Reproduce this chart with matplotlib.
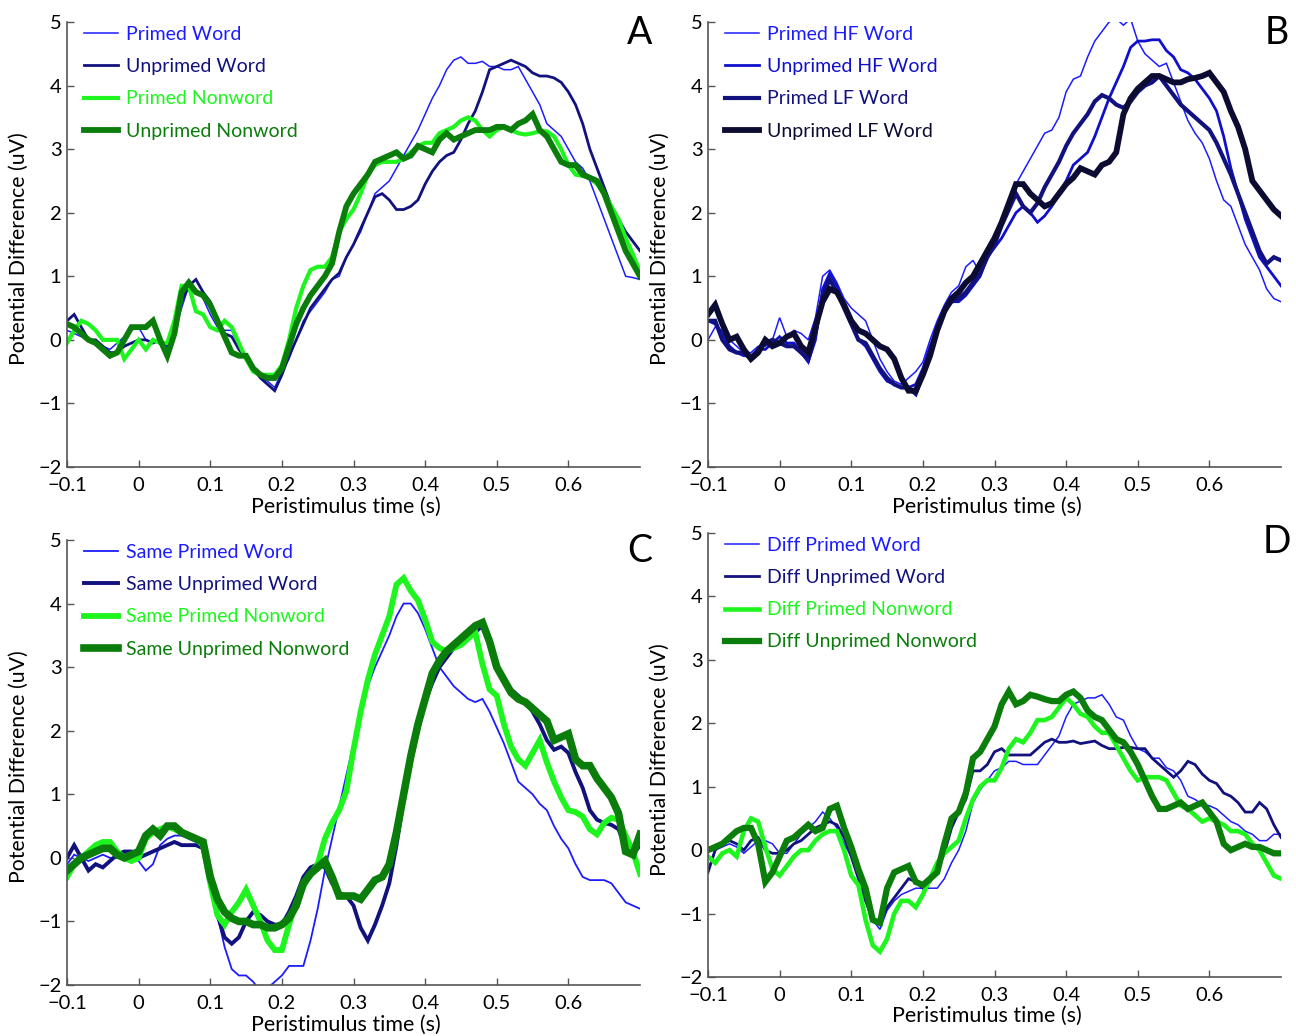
import matplotlib
matplotlib.use("Agg")
import matplotlib.pyplot as plt

plt.rcParams['font.family'] = ['Lato', 'DejaVu Sans']

time_s = [-0.10, -0.09, -0.08, -0.07, -0.06, -0.05, -0.04, -0.03, -0.02, -0.01,
          0.00, 0.01, 0.02, 0.03, 0.04, 0.05, 0.06, 0.07, 0.08, 0.09,
          0.10, 0.11, 0.12, 0.13, 0.14, 0.15, 0.16, 0.17, 0.18, 0.19,
          0.20, 0.21, 0.22, 0.23, 0.24, 0.25, 0.26, 0.27, 0.28, 0.29,
          0.30, 0.31, 0.32, 0.33, 0.34, 0.35, 0.36, 0.37, 0.38, 0.39,
          0.40, 0.41, 0.42, 0.43, 0.44, 0.45, 0.46, 0.47, 0.48, 0.49,
          0.50, 0.51, 0.52, 0.53, 0.54, 0.55, 0.56, 0.57, 0.58, 0.59,
          0.60, 0.61, 0.62, 0.63, 0.64, 0.65, 0.66, 0.67, 0.68, 0.69, 0.70]

# ---------------- Panel A ----------------
a_primed_word = [0.15, 0.10, 0.05, 0.0, -0.05, -0.1, -0.15, -0.05, 0.05, 0.15,
                 0.2, 0.0, -0.05, 0.0, -0.1, 0.1, 0.5, 0.85, 0.8, 0.65,
                 0.4, 0.2, 0.15, 0.15, -0.1, -0.3, -0.4, -0.6, -0.65, -0.75,
                 -0.5, -0.3, 0.0, 0.3, 0.45, 0.6, 0.75, 0.95, 1.0, 1.3,
                 1.5, 1.7, 2.0, 2.3, 2.4, 2.5, 2.7, 2.9, 3.1, 3.3,
                 3.55, 3.8, 4.0, 4.25, 4.4, 4.45, 4.35, 4.35, 4.38, 4.3,
                 4.3, 4.25, 4.25, 4.3, 4.1, 3.9, 3.7, 3.4, 3.3, 3.2,
                 3.0, 2.8, 2.7, 2.5, 2.2, 1.9, 1.6, 1.3, 1.0, 0.98, 0.95]
a_unprimed_word = [0.3, 0.4, 0.2, 0.0, 0.0, -0.1, -0.2, -0.2, -0.1, -0.05,
                   0.0, 0.0, -0.05, 0.0, -0.15, 0.2, 0.6, 0.85, 0.95, 0.75,
                   0.6, 0.3, 0.1, 0.05, -0.15, -0.3, -0.45, -0.6, -0.7, -0.8,
                   -0.55, -0.25, 0.0, 0.25, 0.5, 0.65, 0.8, 0.95, 1.05, 1.3,
                   1.5, 1.75, 2.0, 2.25, 2.3, 2.2, 2.05, 2.05, 2.1, 2.2,
                   2.45, 2.65, 2.8, 2.9, 2.95, 3.15, 3.4, 3.6, 3.9, 4.25,
                   4.3, 4.35, 4.4, 4.35, 4.3, 4.2, 4.15, 4.15, 4.12, 4.05,
                   3.9, 3.7, 3.4, 3.0, 2.7, 2.4, 2.1, 1.9, 1.7, 1.55, 1.4]
a_primed_nonword = [-0.05, 0.15, 0.3, 0.25, 0.15, 0.0, 0.0, 0.0, -0.3, -0.15,
                    0.0, -0.15, 0.0, -0.05, -0.05, 0.3, 0.85, 0.85, 0.45, 0.4,
                    0.2, 0.15, 0.3, 0.2, -0.05, -0.3, -0.5, -0.55, -0.55, -0.55,
                    -0.4, 0.0, 0.5, 0.85, 1.1, 1.15, 1.15, 1.3, 1.7, 1.9,
                    2.05, 2.3, 2.6, 2.75, 2.8, 2.8, 2.8, 2.85, 2.95, 3.05,
                    3.1, 3.1, 3.25, 3.3, 3.35, 3.45, 3.5, 3.45, 3.3, 3.2,
                    3.3, 3.35, 3.3, 3.25, 3.23, 3.25, 3.28, 3.28, 3.2, 3.0,
                    2.75, 2.6, 2.58, 2.55, 2.45, 2.3, 2.1, 1.9, 1.6, 1.35, 1.07]
a_unprimed_nonword = [0.25, 0.2, 0.1, 0.0, -0.05, -0.15, -0.25, -0.2, 0.0, 0.2,
                      0.2, 0.2, 0.3, 0.0, -0.25, 0.1, 0.75, 0.9, 0.75, 0.7,
                      0.55, 0.3, 0.05, -0.2, -0.25, -0.25, -0.45, -0.55, -0.6, -0.6,
                      -0.45, -0.1, 0.25, 0.5, 0.7, 0.85, 1.0, 1.2, 1.7, 2.1,
                      2.3, 2.45, 2.6, 2.8, 2.85, 2.9, 2.95, 2.85, 2.9, 3.05,
                      3.0, 2.95, 3.15, 3.25, 3.15, 3.2, 3.25, 3.3, 3.3, 3.3,
                      3.35, 3.35, 3.3, 3.4, 3.45, 3.55, 3.3, 3.2, 3.0, 2.8,
                      2.75, 2.75, 2.6, 2.55, 2.5, 2.3, 2.0, 1.7, 1.4, 1.2, 1.0]

# ---------------- Panel B ----------------
b_primed_hf = [0.0, 0.2, 0.15, 0.0, -0.1, -0.2, -0.2, -0.1, -0.1, 0.0,
               0.35, 0.05, 0.15, 0.1, 0.0, 0.35, 1.0, 1.1, 0.9, 0.65,
               0.5, 0.4, 0.3, 0.0, -0.3, -0.5, -0.65, -0.7, -0.6, -0.5,
               -0.35, 0.0, 0.3, 0.55, 0.75, 0.85, 1.15, 1.25, 1.05, 1.3,
               1.45, 1.8, 2.1, 2.45, 2.65, 2.85, 3.05, 3.25, 3.3, 3.5,
               3.9, 4.1, 4.15, 4.45, 4.7, 4.85, 5.0, 5.05, 4.95, 5.05,
               4.7, 4.5, 4.4, 4.3, 4.35, 4.05, 3.75, 3.45, 3.25, 3.1,
               2.85, 2.5, 2.2, 2.1, 1.8, 1.5, 1.3, 1.1, 0.8, 0.65, 0.6]
b_unprimed_hf = [0.3, 0.25, 0.1, -0.1, -0.2, -0.25, -0.25, -0.15, -0.15, -0.05,
                 0.05, -0.05, -0.05, -0.2, -0.35, 0.0, 0.8, 1.05, 0.85, 0.55,
                 0.3, 0.0, -0.1, -0.3, -0.5, -0.65, -0.7, -0.75, -0.75, -0.7,
                 -0.45, -0.1, 0.2, 0.45, 0.6, 0.6, 0.7, 0.85, 1.0, 1.3,
                 1.45, 1.6, 1.8, 2.0, 2.1, 2.0, 1.85, 1.95, 2.1, 2.3,
                 2.5, 2.75, 2.85, 2.95, 3.2, 3.5, 3.8, 4.05, 4.3, 4.6,
                 4.7, 4.7, 4.72, 4.72, 4.55, 4.45, 4.25, 4.2, 4.1, 3.95,
                 3.8, 3.6, 3.2, 2.7, 2.3, 1.9, 1.6, 1.3, 1.15, 1.0, 0.85]
b_primed_lf = [0.3, 0.3, 0.0, -0.15, -0.2, -0.2, -0.3, -0.15, -0.05, 0.0,
               -0.05, -0.1, -0.1, -0.2, -0.3, 0.1, 0.7, 0.95, 0.75, 0.5,
               0.25, 0.0, -0.05, -0.25, -0.45, -0.6, -0.7, -0.75, -0.75, -0.85,
               -0.55, -0.2, 0.2, 0.45, 0.6, 0.65, 0.75, 0.9, 1.05, 1.3,
               1.5, 1.8, 2.05, 2.3, 2.1, 2.0, 2.15, 2.4, 2.6, 2.8,
               3.05, 3.25, 3.4, 3.55, 3.75, 3.85, 3.8, 3.7, 3.65, 3.75,
               3.9, 4.0, 4.05, 4.15, 4.0, 3.85, 3.7, 3.6, 3.5, 3.4,
               3.3, 3.1, 2.85, 2.6, 2.3, 2.0, 1.7, 1.4, 1.2, 1.3, 1.25]
b_unprimed_lf = [0.4, 0.55, 0.25, 0.0, 0.05, -0.15, -0.3, -0.2, 0.0, -0.1,
                 -0.05, 0.05, 0.1, -0.1, -0.2, 0.2, 0.6, 0.8, 0.75, 0.55,
                 0.3, 0.15, 0.1, 0.0, -0.1, -0.15, -0.3, -0.6, -0.8, -0.8,
                 -0.55, -0.25, 0.15, 0.45, 0.65, 0.75, 0.9, 1.0, 1.2, 1.4,
                 1.6, 1.85, 2.15, 2.45, 2.45, 2.3, 2.2, 2.1, 2.15, 2.3,
                 2.45, 2.55, 2.7, 2.65, 2.6, 2.75, 2.8, 2.95, 3.55, 3.8,
                 3.95, 4.05, 4.15, 4.15, 4.1, 4.05, 4.05, 4.1, 4.12, 4.15,
                 4.2, 4.05, 3.9, 3.6, 3.35, 3.0, 2.5, 2.35, 2.2, 2.05, 1.95]

# ---------------- Panel C ----------------
c_same_primed_word = [-0.1, 0.05, 0.0, -0.05, 0.0, 0.05, 0.0, 0.0, 0.05, 0.1,
                      -0.05, -0.2, -0.1, 0.2, 0.3, 0.35, 0.35, 0.3, 0.25, 0.15,
                      -0.3, -0.9, -1.4, -1.75, -1.85, -1.85, -1.95, -2.1, -2.05, -1.95,
                      -1.85, -1.7, -1.7, -1.7, -1.3, -0.8, -0.2, 0.3, 0.8, 1.3,
                      1.8, 2.3, 2.7, 3.0, 3.25, 3.5, 3.8, 4.0, 4.0, 3.85,
                      3.6, 3.3, 3.0, 2.85, 2.7, 2.6, 2.5, 2.45, 2.5, 2.3,
                      2.05, 1.8, 1.5, 1.2, 1.1, 1.0, 0.85, 0.75, 0.5, 0.3,
                      0.15, -0.1, -0.3, -0.35, -0.35, -0.35, -0.4, -0.55, -0.7, -0.75, -0.8]
c_same_unprimed_word = [0.0, 0.2, 0.0, -0.2, -0.1, -0.15, -0.05, 0.05, 0.1, 0.1,
                        0.0, 0.05, 0.1, 0.15, 0.2, 0.25, 0.2, 0.2, 0.2, 0.15,
                        -0.3, -0.9, -1.25, -1.35, -1.25, -1.0, -0.85, -0.9, -1.0, -1.05,
                        -1.05, -0.85, -0.6, -0.3, -0.15, -0.1, -0.15, -0.4, -0.55, -0.6,
                        -0.75, -1.1, -1.3, -1.05, -0.75, -0.4, 0.2, 0.9, 1.5, 2.0,
                        2.45, 2.75, 3.0, 3.15, 3.3, 3.4, 3.5, 3.55, 3.65, 3.35,
                        3.0, 2.8, 2.65, 2.55, 2.45, 2.3, 2.1, 1.85, 1.7, 1.75,
                        1.65, 1.35, 1.1, 0.75, 0.6, 0.55, 0.52, 0.45, 0.15, 0.05, 0.2]
c_same_primed_nonword = [-0.3, -0.1, 0.0, 0.1, 0.2, 0.25, 0.25, 0.1, 0.0, -0.05,
                         0.0, 0.3, 0.4, 0.45, 0.5, 0.45, 0.4, 0.35, 0.3, 0.2,
                         -0.4, -0.9, -1.05, -0.85, -0.7, -0.5, -0.75, -1.0, -1.3, -1.45,
                         -1.45, -1.05, -0.7, -0.45, -0.25, -0.1, 0.3, 0.55, 0.75, 1.05,
                         1.7, 2.3, 2.8, 3.2, 3.5, 3.8, 4.3, 4.4, 4.2, 4.05,
                         3.75, 3.4, 3.3, 3.25, 3.3, 3.35, 3.45, 3.55, 3.05, 2.65,
                         2.55, 2.1, 1.75, 1.55, 1.45, 1.65, 1.85, 1.5, 1.2, 0.95,
                         0.75, 0.72, 0.65, 0.45, 0.37, 0.55, 0.63, 0.6, 0.35, 0.1, -0.25]
c_same_unprimed_nonword = [-0.2, -0.1, 0.0, 0.05, 0.1, 0.15, 0.15, 0.05, 0.0, 0.05,
                           0.1, 0.35, 0.45, 0.35, 0.5, 0.5, 0.4, 0.35, 0.3, 0.25,
                           -0.3, -0.65, -0.85, -0.95, -1.0, -1.0, -1.05, -1.05, -1.1, -1.1,
                           -1.05, -0.95, -0.75, -0.4, -0.25, -0.15, -0.05, -0.3, -0.6, -0.6,
                           -0.6, -0.65, -0.5, -0.35, -0.3, -0.1, 0.4, 1.0, 1.6, 2.1,
                           2.5, 2.9, 3.1, 3.25, 3.35, 3.45, 3.55, 3.65, 3.7, 3.4,
                           3.0, 2.8, 2.6, 2.5, 2.45, 2.35, 2.25, 2.15, 1.85, 1.9,
                           1.95, 1.55, 1.45, 1.45, 1.25, 1.1, 0.95, 0.7, 0.1, 0.05, 0.37]

# ---------------- Panel D ----------------
d_diff_primed_word = [-0.3, 0.0, 0.05, 0.1, 0.05, -0.05, 0.05, 0.15, 0.15, 0.1,
                      -0.05, -0.05, 0.1, 0.25, 0.35, 0.45, 0.6, 0.5, 0.35, 0.1,
                      -0.1, -0.4, -0.8, -1.1, -1.25, -0.95, -0.8, -0.7, -0.65, -0.6,
                      -0.6, -0.6, -0.6, -0.45, -0.2, 0.0, 0.3, 0.75, 0.95, 1.1,
                      1.25, 1.3, 1.4, 1.4, 1.35, 1.35, 1.35, 1.5, 1.65, 1.8,
                      2.1, 2.3, 2.35, 2.4, 2.4, 2.45, 2.3, 2.1, 2.05, 1.8,
                      1.6, 1.55, 1.45, 1.45, 1.3, 1.25, 1.1, 0.85, 0.8, 0.72,
                      0.7, 0.65, 0.55, 0.45, 0.4, 0.3, 0.25, 0.15, 0.15, 0.25, 0.25]
d_diff_unprimed_word = [-0.35, 0.0, 0.1, 0.15, 0.1, 0.0, 0.15, 0.2, 0.0, -0.05,
                        -0.05, 0.0, 0.1, 0.15, 0.25, 0.35, 0.4, 0.45, 0.4, 0.2,
                        -0.1, -0.45, -0.8, -1.1, -1.15, -0.9, -0.75, -0.6, -0.45, -0.5,
                        -0.6, -0.5, -0.3, -0.05, 0.35, 0.6, 0.8, 1.25, 1.25, 1.35,
                        1.55, 1.6, 1.5, 1.5, 1.5, 1.5, 1.6, 1.7, 1.75, 1.7,
                        1.7, 1.72, 1.68, 1.7, 1.72, 1.65, 1.6, 1.6, 1.62, 1.62,
                        1.6, 1.6, 1.45, 1.35, 1.25, 1.15, 1.25, 1.4, 1.35, 1.2,
                        1.1, 1.05, 0.9, 0.85, 0.75, 0.6, 0.6, 0.75, 0.65, 0.4, 0.2]
d_diff_primed_nonword = [-0.1, -0.2, -0.05, 0.0, -0.1, 0.3, 0.5, 0.45, 0.05, -0.3,
                         -0.4, -0.25, -0.1, 0.0, 0.0, 0.15, 0.25, 0.3, 0.3, 0.0,
                         -0.4, -0.55, -1.1, -1.5, -1.6, -1.4, -1.0, -0.8, -0.8, -0.9,
                         -0.7, -0.45, -0.2, -0.05, 0.05, 0.15, 0.5, 0.8, 1.0, 1.1,
                         1.1, 1.3, 1.6, 1.75, 1.7, 1.85, 2.05, 2.05, 2.1, 2.25,
                         2.4, 2.3, 2.15, 2.1, 1.95, 1.85, 1.85, 1.65, 1.45, 1.25,
                         1.1, 1.15, 1.15, 1.15, 1.1, 0.9, 0.7, 0.65, 0.55, 0.45,
                         0.5, 0.45, 0.4, 0.3, 0.3, 0.25, 0.1, 0.0, -0.2, -0.4, -0.45]
d_diff_unprimed_nonword = [0.0, 0.05, 0.1, 0.2, 0.3, 0.35, 0.35, 0.1, -0.5, -0.35,
                           -0.1, 0.15, 0.2, 0.3, 0.4, 0.3, 0.35, 0.65, 0.7, 0.35,
                           0.05, -0.3, -0.6, -1.1, -1.15, -0.6, -0.35, -0.3, -0.25, -0.5,
                           -0.55, -0.45, -0.35, 0.1, 0.5, 0.6, 0.9, 1.45, 1.55, 1.75,
                           1.95, 2.3, 2.5, 2.3, 2.35, 2.45, 2.42, 2.38, 2.35, 2.35,
                           2.45, 2.5, 2.4, 2.2, 2.1, 2.05, 1.9, 1.75, 1.7, 1.55,
                           1.35, 1.1, 0.85, 0.65, 0.65, 0.7, 0.75, 0.65, 0.7, 0.75,
                           0.6, 0.45, 0.1, 0.0, 0.05, 0.1, 0.05, 0.05, 0.0, -0.05, -0.05]

x_ticks = [-0.1, 0.0, 0.1, 0.2, 0.3, 0.4, 0.5, 0.6]
x_tick_labels = ['\u22120.1', '0', '0.1', '0.2', '0.3', '0.4', '0.5', '0.6']
y_ticks = [-2, -1, 0, 1, 2, 3, 4, 5]
y_tick_labels = ['\u22122', '\u22121', '0', '1', '2', '3', '4', '5']

panels = [
    dict(letter='A', rect=(67, 22, 640, 467), letter_xy=(652, 15),
         series=[("Primed Word", a_primed_word, '#1c1cff', 1.1),
                 ("Unprimed Word", a_unprimed_word, '#12127e', 2.0),
                 ("Primed Nonword", a_primed_nonword, '#1ef51e', 3.0),
                 ("Unprimed Nonword", a_unprimed_nonword, '#0a7d0a', 4.2)]),
    dict(letter='B', rect=(708, 22, 1281, 467), letter_xy=(1289, 15),
         series=[("Primed HF Word", b_primed_hf, '#1c1cff', 1.1),
                 ("Unprimed HF Word", b_unprimed_hf, '#1010cc', 2.0),
                 ("Primed LF Word", b_primed_lf, '#12127e', 3.0),
                 ("Unprimed LF Word", b_unprimed_lf, '#0c0c33', 4.2)]),
    dict(letter='C', rect=(67, 540, 640, 985), letter_xy=(652, 533),
         series=[("Same Primed Word", c_same_primed_word, '#1c1cff', 1.3),
                 ("Same Unprimed Word", c_same_unprimed_word, '#12127e', 2.8),
                 ("Same Primed Nonword", c_same_primed_nonword, '#1ef51e', 4.2),
                 ("Same Unprimed Nonword", c_same_unprimed_nonword, '#0a7d0a', 5.5)]),
    dict(letter='D', rect=(708, 533, 1281, 977), letter_xy=(1291, 524),
         series=[("Diff Primed Word", d_diff_primed_word, '#1c1cff', 1.1),
                 ("Diff Unprimed Word", d_diff_unprimed_word, '#12127e', 2.0),
                 ("Diff Primed Nonword", d_diff_primed_nonword, '#1ef51e', 3.3),
                 ("Diff Unprimed Nonword", d_diff_unprimed_nonword, '#0a7d0a', 4.5)]),
]

W, H = 1296, 1036
fig = plt.figure(figsize=(W / 100, H / 100), dpi=100)
axis_gray = '#555555'

for p in panels:
    x0, y0, x1, y1 = p['rect']
    ax = fig.add_axes([x0 / W, 1 - y1 / H, (x1 - x0) / W, (y1 - y0) / H])
    for label, vals, col, lw in p['series']:
        ax.plot(time_s, vals, color=col, lw=lw, label=label, solid_joinstyle='miter')
    ax.set_xlim(-0.1, 0.7)
    ax.set_ylim(-2, 5)
    ax.set_xticks(x_ticks)
    ax.set_xticklabels(x_tick_labels)
    ax.set_yticks(y_ticks)
    ax.set_yticklabels(y_tick_labels)
    ax.tick_params(direction='in', length=5, width=1, color=axis_gray,
                   labelsize=14.5, labelcolor='black')
    ax.tick_params(axis='x', pad=7.5)
    ax.tick_params(axis='y', pad=4)
    for s in ('top', 'right'):
        ax.spines[s].set_visible(False)
    for s in ('left', 'bottom'):
        ax.spines[s].set_color(axis_gray)
        ax.spines[s].set_linewidth(1.2)
    ax.set_xlabel('Peristimulus time (s)', fontsize=15.5)
    ax.set_ylabel('Potential Difference (uV)', fontsize=15.3)
    ax.xaxis.set_label_coords(0.487, -0.066)
    ax.yaxis.set_label_coords(-0.066, 0.49)
    ax.legend(loc='upper left', bbox_to_anchor=(0.029, 0.991), frameon=False,
              fontsize=14, labelcolor='linecolor', handlelength=1.75,
              handletextpad=0.45, labelspacing=0.78, borderpad=0.0,
              borderaxespad=0.0)
    lx, ly = p['letter_xy']
    fig.text(lx / W, 1 - ly / H, p['letter'], ha='right', va='top', fontsize=27)

fig.savefig('out.png', dpi=100)
